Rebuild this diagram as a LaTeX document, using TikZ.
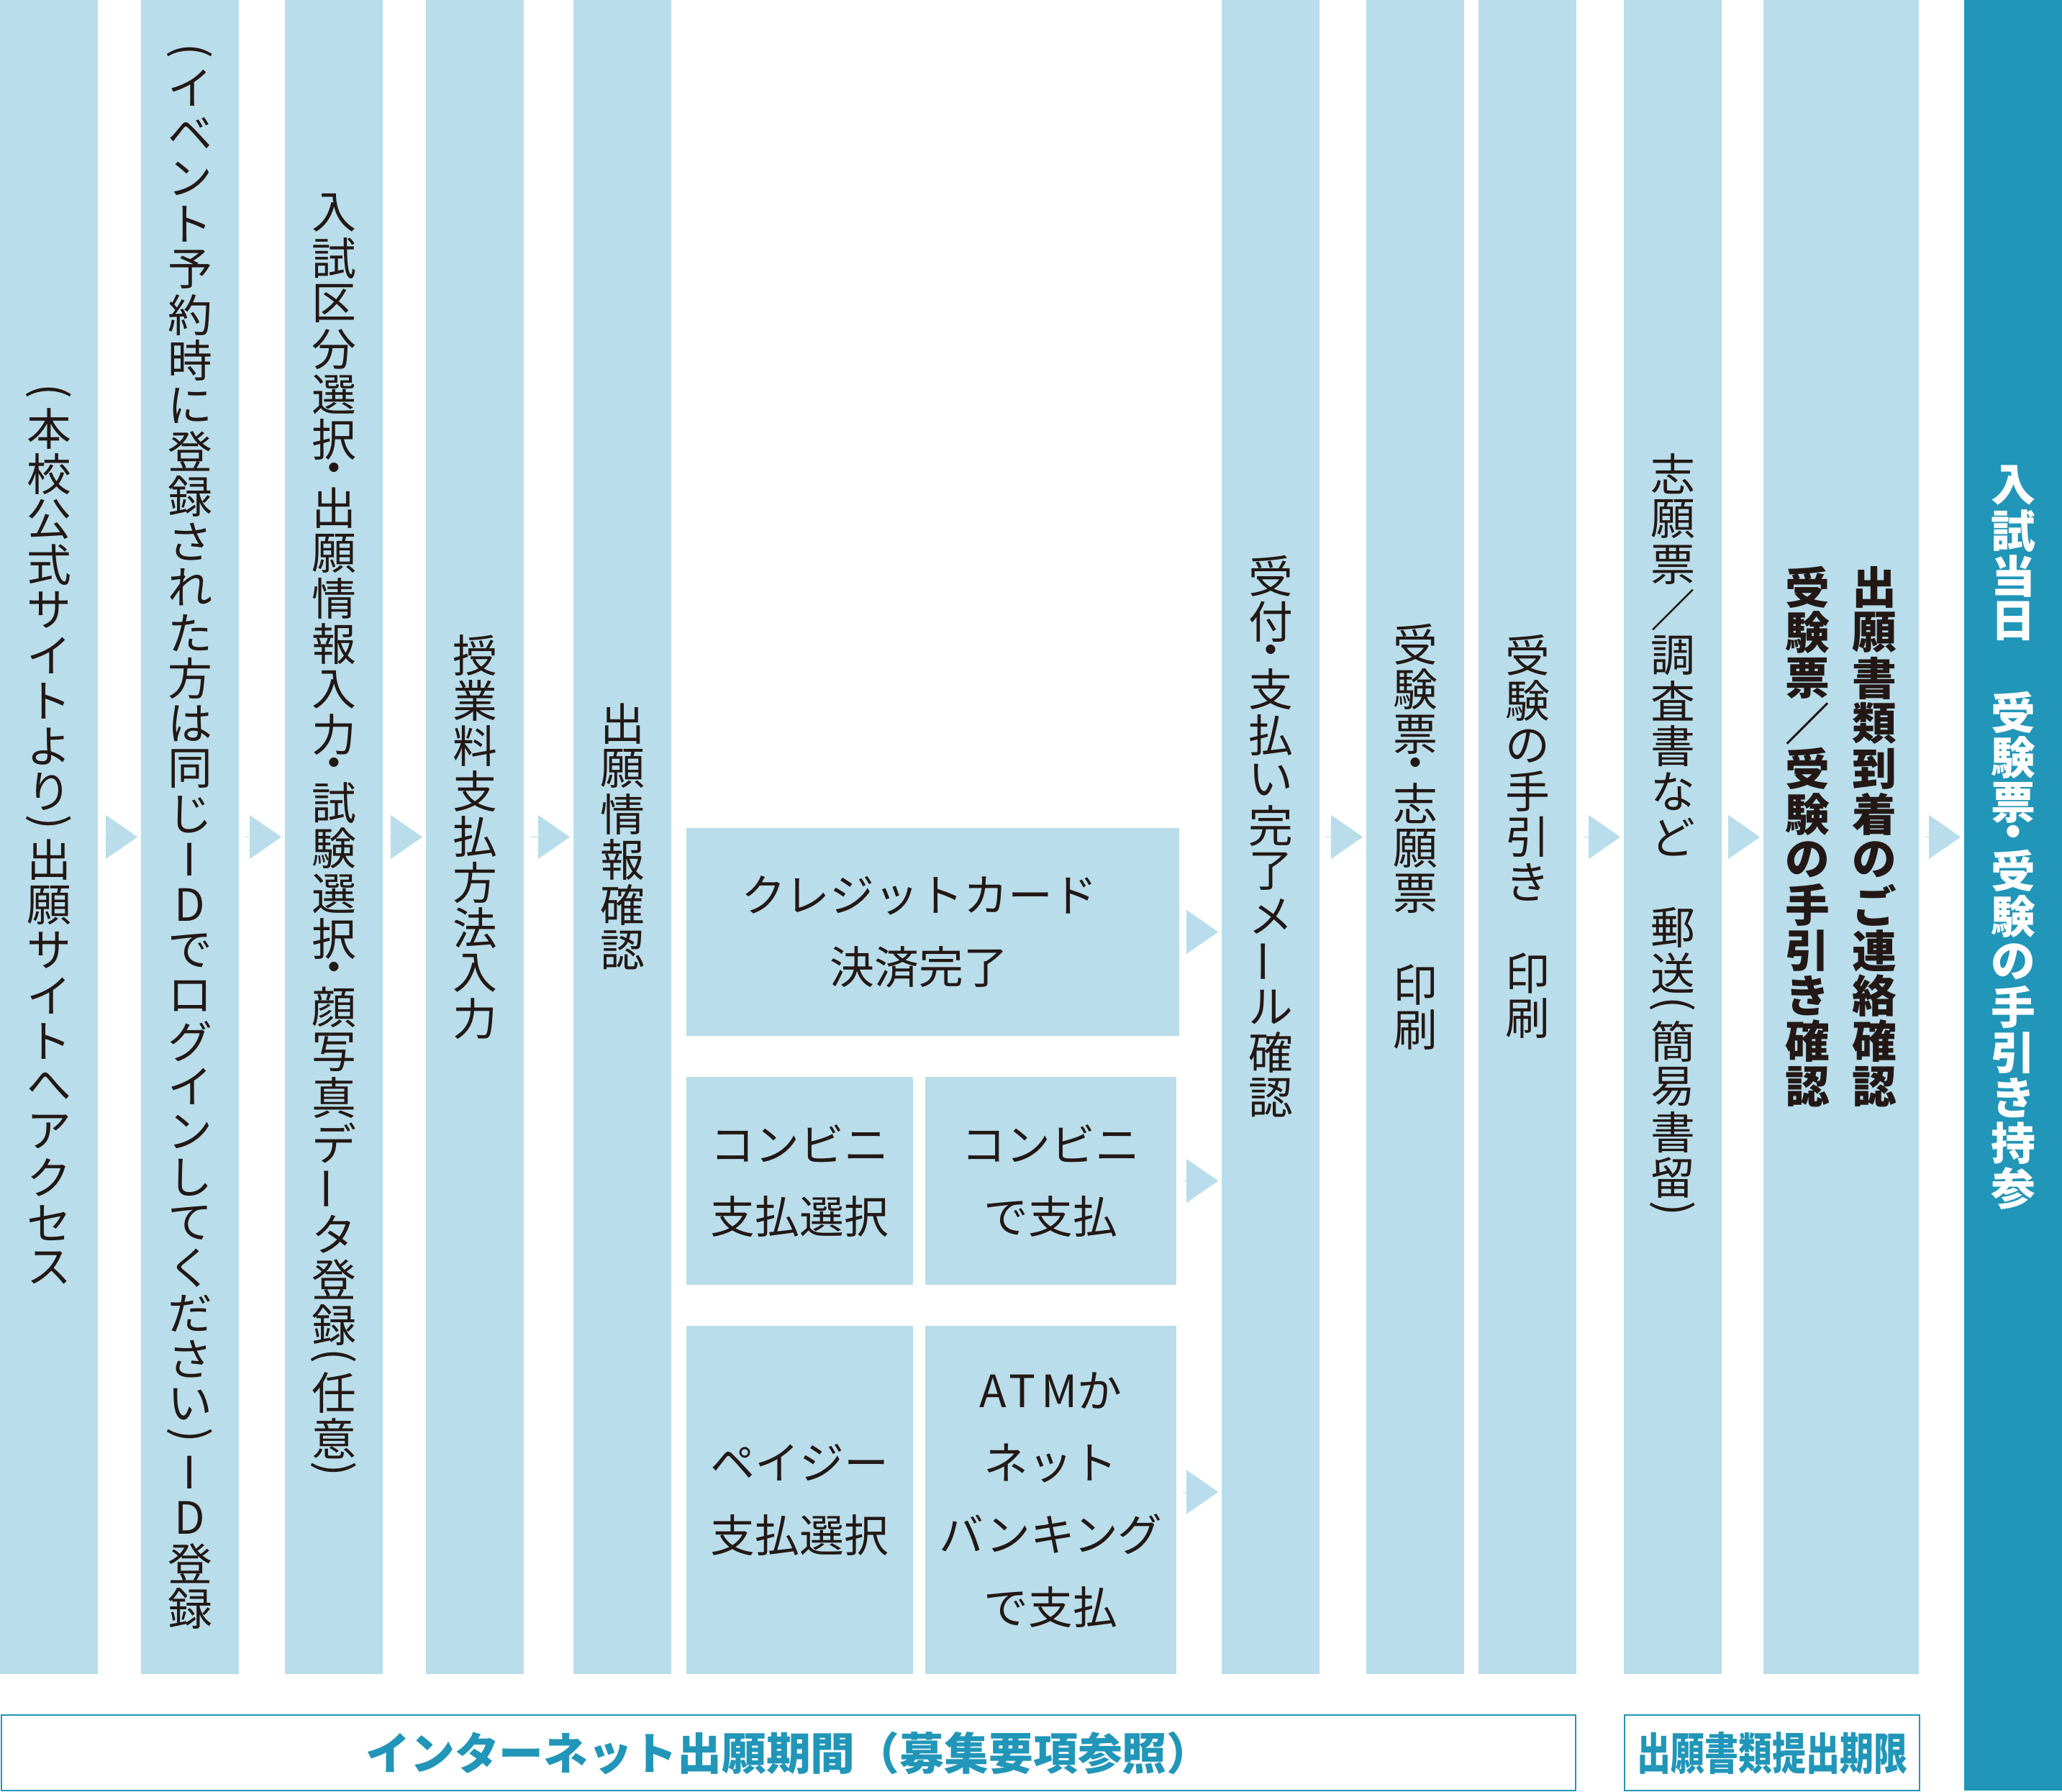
\documentclass[tikz,border=0pt]{standalone}
\usepackage{fontspec}
\usepackage{graphicx}
\usetikzlibrary{arrows.meta,positioning}

\newfontfamily\jpfont{Noto Sans CJK JP}
\newfontfamily\jpnarrow[FakeStretch=0.76]{Noto Sans CJK JP}

\definecolor{paleblue}{HTML}{B9DDEA}
\definecolor{deepblue}{HTML}{2196B8}
\definecolor{inkblack}{HTML}{231815}

% vertical (tategaki) stacking, one character per slot
\ExplSyntaxOn
\cs_new_protected:Npn \jp_tate_box:nn #1#2
  { \hbox_to_wd:nn {1em} { \hss \vbox_to_ht:nn {#1} { \vss \hbox:n {#2} \vss } \hss } }
\NewDocumentCommand \tate { m }
  {
    \vbox:n
      {
        \offinterlineskip
        \tl_map_inline:nn {#1}
          {
            \str_case:nnF {##1}
              {
                {（} { \jp_tate_box:nn {.51em} { \rotatebox[origin=c]{-90}{(} } }
                {）} { \jp_tate_box:nn {.51em} { \rotatebox[origin=c]{-90}{)} } }
                {・} { \jp_tate_box:nn {.51em} {・} }
                {ー} { \jp_tate_box:nn {1.02em} { \rotatebox[origin=c]{90}{ー} } }
              }
              { \jp_tate_box:nn {1.02em} {##1} }
          }
      }
  }
\ExplSyntaxOff

\begin{document}
\begin{tikzpicture}[
    node distance=0.6cm,
    font=\jpfont\fontsize{17.6}{28.5}\selectfont,
    stepcol/.style={fill=paleblue, text=inkblack, inner sep=0pt, outer sep=0pt,
      minimum width=1.36cm, minimum height=23.27cm},
    paybox/.style={fill=paleblue, text=inkblack, inner sep=0pt, outer sep=0pt,
      align=center, minimum height=2.89cm},
    periodbox/.style={draw=deepblue, line width=0.6pt, text=deepblue, inner sep=0pt,
      minimum height=1.05cm, font=\jpfont\bfseries\fontsize{17.6}{20}\selectfont},
    flow/.style={-{Triangle[length=0.44cm, width=0.61cm]}, draw=paleblue,
      line width=0.01pt, shorten <=0.09cm, shorten >=0.05cm}
  ]
  \useasboundingbox (0,0) rectangle (28.66,24.91);

  % steps
  \node[stepcol, anchor=north west] (access) at (0,24.91)
    {\tate{（本校公式サイトより）出願サイトへアクセス}};
  \node[stepcol, right=0.60cm of access] (idreg)
    {\tate{（イベント予約時に登録された方は同じIDでログインしてください）ID登録}};
  \node[stepcol, right=0.64cm of idreg] (entry)
    {\tate{入試区分選択・出願情報入力・試験選択・顔写真データ登録（任意）}};
  \node[stepcol, right=0.60cm of entry] (method) {\tate{授業料支払方法入力}};
  \node[stepcol, right=0.69cm of method] (confirm) {\tate{出願情報確認}};

  % payment choices
  \node[paybox, anchor=south west, minimum width=3.15cm, minimum height=4.84cm] (payeasy)
    at ([xshift=0.21cm]confirm.south east) {ペイジー\\支払選択};
  \node[paybox, right=0.17cm of payeasy, minimum width=3.49cm, minimum height=4.84cm] (atm)
    {{\addfontfeature{LetterSpace=12}ATM}か\\ネット\\バンキング\\で支払};
  \node[paybox, above=0.57cm of payeasy, minimum width=3.15cm] (konbini) {コンビニ\\支払選択};
  \node[paybox, right=0.17cm of konbini, minimum width=3.49cm] (konbinipay) {コンビニ\\で支払};
  \node[paybox, above=0.57cm of konbini.north west, anchor=south west, minimum width=6.85cm,
    label={[text=inkblack, align=center, xshift=-0.19cm]center:クレジットカード\\決済完了}] (credit) {};

  \coordinate (payright) at (credit.east |- confirm.east);
  \node[stepcol, right=0.59cm of payright] (mail) {\tate{受付・支払い完了メール確認}};
  \node[stepcol, right=0.65cm of mail] (ticket) {\tate{受験票・志願票　印刷}};
  \node[stepcol, right=0.20cm of ticket] (guide) {\tate{受験の手引き　印刷}};
  \node[stepcol, right=0.66cm of guide] (mailing) {\tate{志願票／調査書など　郵送（簡易書留）}};
  \node[stepcol, right=0.58cm of mailing, minimum width=2.16cm,
    font=\jpfont\bfseries\fontsize{17.6}{28.5}\selectfont] (arrival)
    {\tate{受験票／受験の手引き確認}\hspace{0.31cm}\tate{出願書類到着のご連絡確認}};
  \node[fill=deepblue, inner sep=0pt, outer sep=0pt, minimum width=1.36cm,
    minimum height=24.89cm, anchor=north west] (examday) at ([xshift=0.63cm]arrival.north east) {};
  \node[text=white, inner sep=0pt, font=\jpfont\bfseries\fontsize{17.6}{28.5}\selectfont] (examlabel)
    at (examday |- arrival) {\tate{入試当日　受験票・受験の手引き持参}};

  % periods
  \node[periodbox, anchor=north west, minimum width=21.88cm] (netperiod)
    at ([xshift=0.01cm, yshift=-0.56cm]access.south west) {インターネット出願期間（募集要項参照）};
  \node[periodbox, anchor=north west, minimum width=4.10cm,
    font=\jpnarrow\bfseries\fontsize{17.6}{20}\selectfont] (deadline)
    at ([yshift=-0.56cm]mailing.south west) {出願書類提出期限};

  % arrows
  \draw[flow] (access) -- (idreg);
  \draw[flow] (idreg) -- (entry);
  \draw[flow] (entry) -- (method);
  \draw[flow] (method) -- (confirm);
  \draw[flow] (credit) -- (credit -| mail.west);
  \draw[flow] (konbinipay) -- (konbinipay -| mail.west);
  \draw[flow] ([yshift=0.11cm]atm.east) -- ([yshift=0.11cm]atm.east -| mail.west);
  \draw[flow] (mail) -- (ticket);
  \draw[flow] (guide) -- (mailing);
  \draw[flow] (mailing) -- (arrival);
  \draw[flow] (arrival) -- (arrival -| examday.west);
\end{tikzpicture}
\end{document}
